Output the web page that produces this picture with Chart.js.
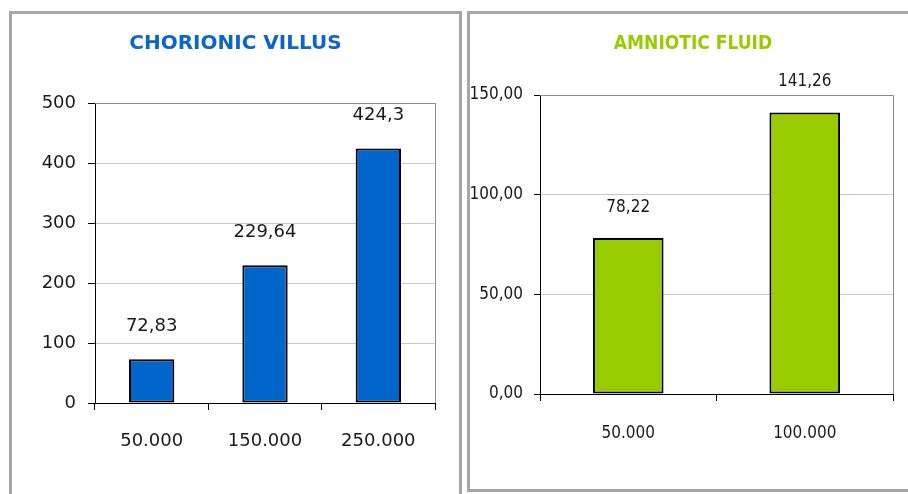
<!DOCTYPE html>
<html>
<head>
<meta charset="utf-8">
<script src="https://cdn.jsdelivr.net/npm/chart.js@4/dist/chart.umd.min.js"></script>
<style>
  html, body { margin: 0; padding: 0; background: #fff; width: 908px; height: 494px; overflow: hidden; position: relative; }
  .panel { position: absolute; box-sizing: border-box; border: 3px solid #a6a6a6; background: #fff; }
  #p1 { left: 9px; top: 11px; width: 453px; height: 500px; }
  #p2 { left: 467px; top: 11px; width: 452px; height: 481px; }
  canvas { position: absolute; left: 0; top: 0; }
</style>
</head>
<body>
<div class="panel" id="p1"><canvas id="c1" width="447" height="480"></canvas></div>
<div class="panel" id="p2"><canvas id="c2" width="446" height="475"></canvas></div>
<script>
// ---- data ----
const cvTitle = 'CHORIONIC VILLUS';
const cvCategories = ['50.000', '150.000', '250.000'];
const cvValues = [72.83, 229.64, 424.3];
const cvAxis = { min: 0, max: 500, step: 100 };

const afTitle = 'AMNIOTIC FLUID';
const afCategories = ['50.000', '100.000'];
const afValues = [78.22, 141.26];
const afAxis = { min: 0, max: 150, step: 50 };

const commaNum = v => String(v).replace('.', ',');

// title, value labels above bars + grey plot border (top/right)
const extrasPlugin = {
  id: 'extras',
  beforeDatasetsDraw(chart) {
    const { ctx, chartArea: a } = chart;
    ctx.save();
    ctx.strokeStyle = '#8c8c8c';
    ctx.lineWidth = 1;
    ctx.beginPath();
    ctx.moveTo(a.left, Math.round(a.top) + 0.5);
    ctx.lineTo(Math.round(a.right) + 0.5, Math.round(a.top) + 0.5);
    ctx.lineTo(Math.round(a.right) + 0.5, a.bottom);
    ctx.stroke();
    ctx.restore();
  },
  afterDatasetsDraw(chart, args, opts) {
    const { ctx } = chart;
    const meta = chart.getDatasetMeta(0);
    const vals = chart.data.datasets[0].data;
    ctx.save();
    ctx.font = opts.font;
    ctx.fillStyle = '#1a1a1a';
    ctx.textAlign = 'center';
    ctx.textBaseline = 'alphabetic';
    meta.data.forEach((bar, i) => {
      ctx.fillText(commaNum(vals[i]), bar.x, bar.y - opts.offset);
    });
    // chart title
    ctx.font = opts.titleFont;
    ctx.fillStyle = opts.titleColor;
    ctx.textBaseline = 'middle';
    ctx.fillText(opts.title, chart.width / 2, opts.titleY);
    ctx.restore();
  }
};

function makeChart(id, cfg) {
  return new Chart(document.getElementById(id), {
    type: 'bar',
    data: {
      labels: cfg.labels,
      datasets: [{
        data: cfg.values,
        backgroundColor: cfg.color,
        borderColor: '#000',
        borderWidth: 2,
        borderSkipped: false,
        barPercentage: 0.4,
        categoryPercentage: 1
      }]
    },
    options: {
      responsive: false,
      animation: false,
      layout: { padding: { left: 0, right: cfg.padRight, top: cfg.padTop, bottom: 0 } },
      plugins: {
        legend: { display: false },
        tooltip: { enabled: false },
        title: { display: false },
        extras: {
          font: cfg.labelFont, offset: cfg.labelOffset,
          title: cfg.title, titleFont: cfg.titleFont, titleColor: cfg.titleColor, titleY: 30
        }
      },
      scales: {
        x: {
          afterFit: s => { s.height = cfg.xHeight; },
          border: { color: '#000', width: 1 },
          grid: { drawOnChartArea: false, drawTicks: true, tickLength: 7, color: '#000', offset: true },
          ticks: { color: '#1a1a1a', padding: cfg.xPad, font: { family: cfg.family, size: cfg.size } }
        },
        y: {
          min: cfg.axis.min, max: cfg.axis.max,
          afterFit: s => { s.width = cfg.yWidth; },
          border: { color: '#000', width: 1 },
          grid: { color: '#c8c8c8', tickColor: '#000', tickLength: cfg.yTick, drawTicks: true },
          ticks: {
            stepSize: cfg.axis.step, color: '#1a1a1a', padding: cfg.yPad,
            font: { family: cfg.family, size: cfg.size },
            callback: cfg.yFmt
          }
        }
      }
    },
    plugins: [extrasPlugin]
  });
}

makeChart('c1', {
  labels: cvCategories, values: cvValues, axis: cvAxis,
  color: '#0066cc', title: cvTitle, titleColor: '#0a66cc', titleFont: 'bold 20px "DejaVu Sans"',
  padTop: 89, padRight: 24, xHeight: 91, yWidth: 83,
  family: 'DejaVu Sans', size: 18, xPad: 21, yPad: 12, yTick: 7,
  labelFont: '18px "DejaVu Sans"', labelOffset: 28.5,
  yFmt: v => String(v)
});

makeChart('c2', {
  labels: afCategories, values: afValues, axis: afAxis,
  color: '#99cc00', title: afTitle, titleColor: '#99cc00', titleFont: 'bold 19px "DejaVu Sans Condensed"',
  padTop: 81, padRight: 23, xHeight: 95, yWidth: 70,
  family: 'DejaVu Sans Condensed', size: 17, xPad: 22, yPad: 11, yTick: 6,
  labelFont: '17px "DejaVu Sans Condensed"', labelOffset: 26.3,
  yFmt: v => v.toFixed(2).replace('.', ',')
});
</script>
</body>
</html>
